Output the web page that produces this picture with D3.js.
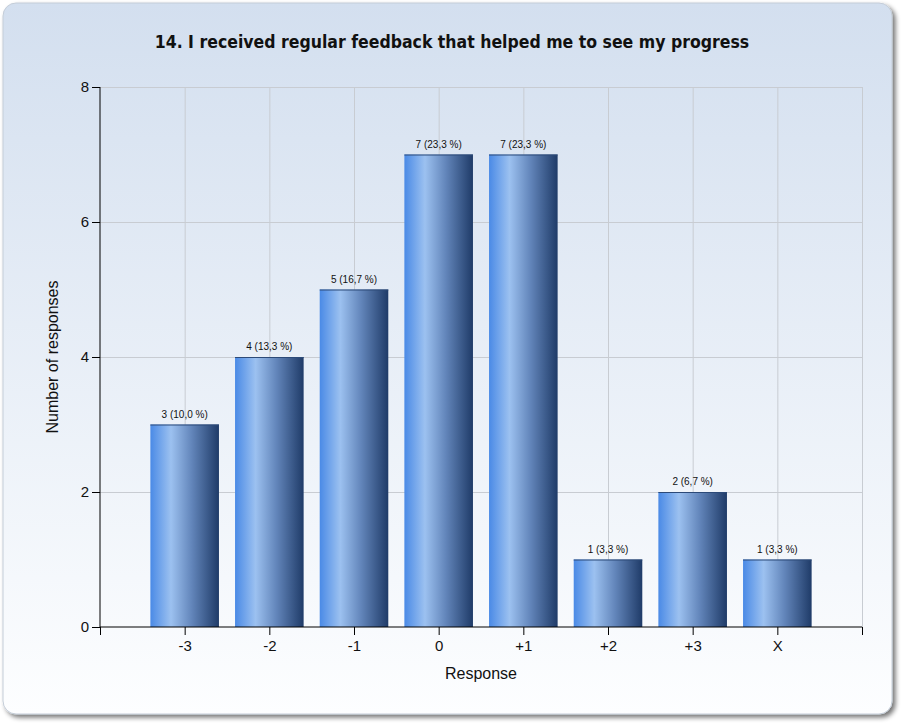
<!DOCTYPE html>
<html>
<head>
<meta charset="utf-8">
<script src="https://cdn.jsdelivr.net/npm/d3@7"></script>
<style>
  body { margin: 0; background: #ffffff; }
  svg { display: block; }
</style>
</head>
<body>
<svg id="chart"></svg>
<script>
// Bar chart: responses per scale value

const title = "14. I received regular feedback that helped me to see my progress";
const categories = ["-3", "-2", "-1", "0", "+1", "+2", "+3", "X"];
const counts = [3, 4, 5, 7, 7, 1, 2, 1];
const percents = ["10,0", "13,3", "16,7", "23,3", "23,3", "3,3", "6,7", "3,3"];
const yTicks = [0, 2, 4, 6, 8];

function drawChart(){
  let width = 906;
  let height = 725;
  let svg = d3.select('#chart')
    .attr("width", width)
    .attr("height", height);

  let defs = svg.append('defs');

  // Background gradient of the panel.
  let bg = defs.append('linearGradient')
    .attr("id", "bgGrad")
    .attr("x1", 0).attr("y1", 0).attr("x2", 0).attr("y2", 1);
  bg.append('stop').attr("offset", "0%").attr("stop-color", "#d3dfef");
  bg.append('stop').attr("offset", "100%").attr("stop-color", "#fdfeff");

  // Cylinder-like gradient for the bars.
  let barGrad = defs.append('linearGradient')
    .attr("id", "barGrad")
    .attr("x1", 0).attr("y1", 0).attr("x2", 1).attr("y2", 0);
  barGrad.append('stop').attr("offset", "0%").attr("stop-color", "#4a8ae6");
  barGrad.append('stop').attr("offset", "30%").attr("stop-color", "#9cc1f0");
  barGrad.append('stop').attr("offset", "60%").attr("stop-color", "#6386bb");
  barGrad.append('stop').attr("offset", "100%").attr("stop-color", "#1f3b68");

  let shadow = defs.append('filter')
    .attr("id", "shadow")
    .attr("x", "-5%").attr("y", "-5%").attr("width", "110%").attr("height", "110%");
  shadow.append('feGaussianBlur')
    .attr("in", "SourceAlpha").attr("stdDeviation", 2.5);
  shadow.append('feOffset').attr("dx", 3).attr("dy", 3).attr("result", "off");
  shadow.append('feComponentTransfer').append('feFuncA')
    .attr("type", "linear").attr("slope", 0.55);
  let merge = shadow.append('feMerge');
  merge.append('feMergeNode');
  merge.append('feMergeNode').attr("in", "SourceGraphic");

  // The rounded panel.
  svg.append('rect')
    .attr("x", 3).attr("y", 3)
    .attr("width", 889).attr("height", 711)
    .attr("rx", 13).attr("ry", 13)
    .attr("fill", "url(#bgGrad)")
    .attr("stroke", "#c4cdd8")
    .attr("stroke-width", 1)
    .attr("filter", "url(#shadow)");

  // Graphing space.
  let margins = {top: 87, bottom: 98, left: 100, right: 44};
  let widthGraphing = width - margins.left - margins.right;
  let heightGraphing = height - margins.top - margins.bottom;

  let xScale = d3.scaleLinear()
    .domain([0, categories.length + 1])
    .range([0, widthGraphing]);
  let yScale = d3.scaleLinear()
    .domain([0, 8])
    .range([heightGraphing, 0]);

  let g = svg.append('g')
    .attr("transform", `translate(${margins.left},${margins.top})`);

  // Grid lines.
  let xGridValues = d3.range(1, categories.length + 2);
  g.append('g')
    .attr("class", "xGrid")
    .call(d3.axisBottom(xScale)
      .tickValues(xGridValues)
      .tickFormat("")
      .tickSize(heightGraphing))
    .call(s => s.select('.domain').remove())
    .selectAll('line')
    .attr("stroke", "#c8ccd2");
  g.append('g')
    .attr("class", "yGrid")
    .call(d3.axisLeft(yScale)
      .tickValues(yTicks.slice(1))
      .tickFormat("")
      .tickSize(-widthGraphing))
    .call(s => s.select('.domain').remove())
    .selectAll('line')
    .attr("stroke", "#c8ccd2");

  // Bars.
  let barWidth = (xScale(1) - xScale(0)) * 0.81;
  g.selectAll('.bar')
    .data(counts)
    .enter()
    .append('rect')
    .attr("class", "bar")
    .attr("x", (d, i) => xScale(i + 1) - barWidth / 2)
    .attr("y", d => yScale(d))
    .attr("width", barWidth)
    .attr("height", d => yScale(0) - yScale(d))
    .attr("fill", "url(#barGrad)");
  g.selectAll('.barTop')
    .data(counts)
    .enter()
    .append('line')
    .attr("class", "barTop")
    .attr("x1", (d, i) => xScale(i + 1) - barWidth / 2)
    .attr("x2", (d, i) => xScale(i + 1) + barWidth / 2)
    .attr("y1", d => yScale(d) + 0.5)
    .attr("y2", d => yScale(d) + 0.5)
    .attr("stroke", "#2c4a78")
    .attr("stroke-width", 1);

  // Value labels.
  g.selectAll('.valueLabel')
    .data(counts)
    .enter()
    .append('text')
    .attr("class", "valueLabel")
    .attr("x", (d, i) => xScale(i + 1))
    .attr("y", d => yScale(d) - 7)
    .attr("text-anchor", "middle")
    .attr("font-family", "'Liberation Sans', Arial, sans-serif")
    .attr("font-size", "10px")
    .attr("fill", "#111")
    .text((d, i) => `${d} (${percents[i]} %)`);

  // Y axis.
  let yAxis = g.append('g')
    .attr("class", "yAxis")
    .call(d3.axisLeft(yScale)
      .tickValues(yTicks)
      .tickFormat(d3.format("d"))
      .tickSize(8)
      .tickPadding(3));
  yAxis.select('.domain').attr("stroke", "#000").attr("d", `M0,0V${heightGraphing}`);
  yAxis.selectAll('line').attr("stroke", "#000");
  yAxis.selectAll('text')
    .attr("font-family", "'Liberation Sans', Arial, sans-serif")
    .attr("font-size", "15px")
    .attr("fill", "#111");

  // X axis.
  let xAxis = g.append('g')
    .attr("class", "xAxis")
    .attr("transform", `translate(0,${heightGraphing})`)
    .call(d3.axisBottom(xScale)
      .tickValues(d3.range(0, categories.length + 2))
      .tickFormat(d => categories[d - 1] || "")
      .tickSize(8)
      .tickPadding(5));
  xAxis.select('.domain').attr("stroke", "#000").attr("d", `M0,0H${widthGraphing}`);
  xAxis.selectAll('line').attr("stroke", "#000");
  xAxis.selectAll('text')
    .attr("font-family", "'Liberation Sans', Arial, sans-serif")
    .attr("font-size", "15px")
    .attr("fill", "#111");

  // Axis titles.
  svg.append('text')
    .attr("x", margins.left + widthGraphing / 2)
    .attr("y", 679)
    .attr("text-anchor", "middle")
    .attr("font-family", "'Liberation Sans', Arial, sans-serif")
    .attr("font-size", "16px")
    .attr("fill", "#111")
    .text("Response");
  svg.append('text')
    .attr("transform", `translate(58,${margins.top + heightGraphing / 2}) rotate(-90)`)
    .attr("text-anchor", "middle")
    .attr("font-family", "'Liberation Sans', Arial, sans-serif")
    .attr("font-size", "16px")
    .attr("fill", "#111")
    .text("Number of responses");

  // Chart title.
  svg.append('text')
    .attr("x", 452)
    .attr("y", 48)
    .attr("text-anchor", "middle")
    .attr("font-family", "'DejaVu Sans Condensed', 'DejaVu Sans', Verdana, sans-serif")
    .attr("font-stretch", "condensed")
    .attr("font-weight", "bold")
    .attr("font-size", "17.5px")
    .attr("fill", "#111")
    .text(title);
}

drawChart();
</script>
</body>
</html>
